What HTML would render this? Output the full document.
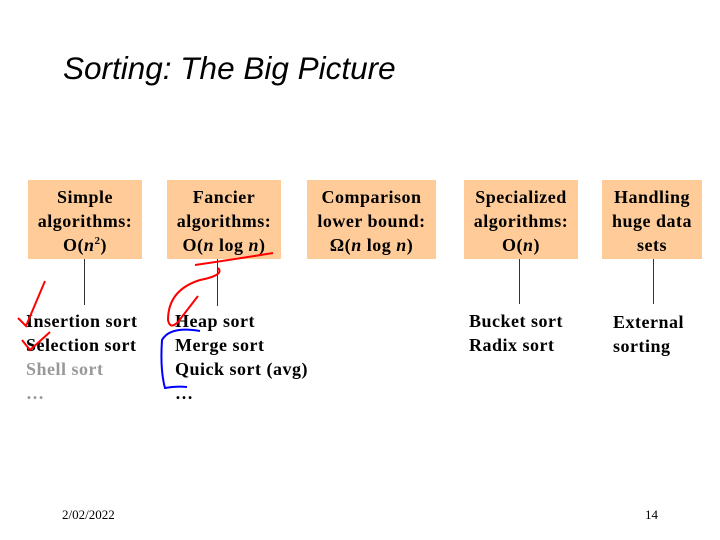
<!DOCTYPE html>
<html><head><style>
body{margin:0;width:720px;height:540px;background:#fff;position:relative;overflow:hidden;font-family:"Liberation Serif",serif}
.t{position:absolute;left:63px;top:50px;font:italic 31.5px "Liberation Sans",sans-serif;color:#000;white-space:nowrap}
.b{position:absolute;top:180px;height:79px;background:#ffcc99;font-weight:bold;font-size:18px;letter-spacing:0.5px;line-height:24px;text-align:center;box-sizing:border-box;padding-top:5px;white-space:nowrap}
.l{position:absolute;width:1px;background:#333;top:259px}
.li{position:absolute;font-weight:bold;font-size:18px;letter-spacing:0.5px;line-height:24px;white-space:nowrap}
.f{position:absolute;top:507px;font-size:13px}
</style></head><body>
<div class="t">Sorting: The Big Picture</div>
<div class="b" style="left:28px;width:114px">Simple<br>algorithms:<br>O(<i>n</i><sup style="font-size:11px;line-height:0">2</sup>)</div>
<div class="b" style="left:167px;width:114px">Fancier<br>algorithms:<br>O(<i>n</i> log <i>n</i>)</div>
<div class="b" style="left:307px;width:129px">Comparison<br>lower bound:<br>Ω(<i>n</i> log <i>n</i>)</div>
<div class="b" style="left:464px;width:114px">Specialized<br>algorithms:<br>O(<i>n</i>)</div>
<div class="b" style="left:602px;width:100px">Handling<br>huge data<br>sets</div>
<div class="l" style="left:84px;height:46px"></div>
<div class="l" style="left:217px;height:47px"></div>
<div class="l" style="left:519px;height:45px"></div>
<div class="l" style="left:653px;height:45px"></div>
<div class="li" style="left:26px;top:309px">Insertion sort<br>Selection sort<br><span style="color:#999">Shell sort</span><br><span style="color:#999">…</span></div>
<div class="li" style="left:175px;top:309px">Heap sort<br>Merge sort<br>Quick sort (avg)<br>…</div>
<div class="li" style="left:469px;top:309px">Bucket sort<br>Radix sort</div>
<div class="li" style="left:613px;top:310px">External<br>sorting</div>
<div class="f" style="left:62px">2/02/2022</div>
<div class="f" style="left:645px">14</div>
<svg width="720" height="540" style="position:absolute;left:0;top:0" fill="none" stroke-width="2">
<path d="M18 318 L26 326 L45 281" stroke="red"/>
<path d="M22 340 L30 350 L50 332" stroke="red"/>
<path d="M195 265 Q230 260 273 253" stroke="red"/>
<path d="M218 268 Q225 275 200 280 Q168 290 168 320 Q170 330 178 322 L198 296" stroke="red"/>
<path d="M200 331 Q170 326 162 340 Q160 370 165 388 Q175 386 187 387" stroke="blue"/>
</svg>
</body></html>
